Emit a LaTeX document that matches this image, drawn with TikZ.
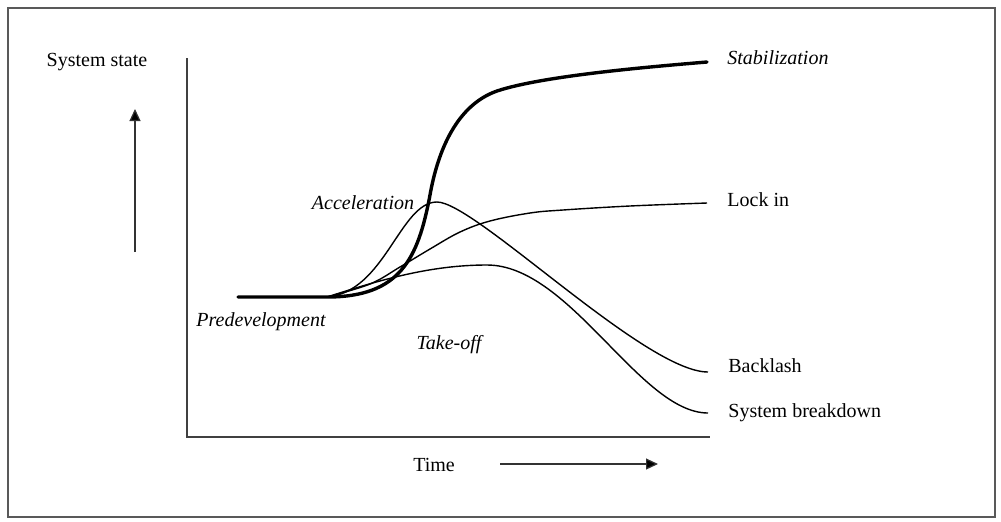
\documentclass[tikz,border=0pt]{standalone}
\usepackage{fontspec}
\setmainfont{Liberation Serif}
\usetikzlibrary{positioning,arrows.meta}

\begin{document}
\begin{tikzpicture}[
				x=0.5pt, y=-0.5pt,
				every node/.style={inner sep=1pt, font=\fontsize{10}{12}\selectfont},
				phase/.style={font=\fontsize{10}{12}\selectfont\itshape},
				path line/.style={line width=0.7pt, line join=round},
				main line/.style={line width=1.7pt, line join=round, line cap=round},
				axis line/.style={line width=0.7pt, draw=black!75},
				dir arrow/.style={line width=0.6pt, draw=black!80, -{Triangle[length=6pt, width=5.5pt, fill=black]}}
			]
			\useasboundingbox (0,0) rectangle (1001,521);
			\draw[line width=1pt, draw=black!65] (8,8) rectangle (995,517);

			% axes
			\coordinate (origin) at (187,437);
			\coordinate (ytop) at (187,58);
			\coordinate (xend) at (710,437);
			\draw[axis line] (ytop) -- (origin) -- (xend);

			\node (state) at (97,62) { System state };
			\coordinate (up0) at (135,252);
			\coordinate (up1) at (135,109);
			\draw[dir arrow] (up0) -- (up1);

			\node (time) at (434,465) { Time };
			\coordinate (t0) at (500,464);
			\coordinate (t1) at (658,464);
			\draw[dir arrow] (t0) -- (t1);

			% curves
			\coordinate (start) at (238,297);
			\coordinate (branch) at (327,297);
			\coordinate (stabEnd) at (707,62);
			\coordinate (lockEnd) at (707,203);
			\coordinate (backEnd) at (708,372);
			\coordinate (breakEnd) at (708,413);
			\coordinate (backTop) at (437,202);
			\coordinate (breakTop) at (487,265);
			\coordinate (stabMid) at (430,195);
			\coordinate (stabBend) at (497,91);

			\draw[path line] (branch) .. controls (385,292) and (400,202) .. (backTop)
				.. controls (475,202) and (645,372) .. (backEnd);
			\draw[path line] plot[smooth, tension=0.6] coordinates {
					(branch) (370,284) (400,267) (430,249) (460,232) (490,221) (530,213)
					(563,210) (630,206) (lockEnd) };
			\draw[path line] (branch) .. controls (380,280) and (430,265) .. (breakTop)
				.. controls (570,265) and (640,413) .. (breakEnd);
			\draw[main line] (start) -- (branch)
				.. controls (400,297) and (418,259) .. (stabMid)
				.. controls (438,150) and (457,105) .. (stabBend)
				.. controls (542,76) and (647,67) .. (stabEnd);

			% labels
			\node[phase, right=9pt of stabEnd, yshift=2pt] (stab) { Stabilization };
			\node[right=9pt of lockEnd, yshift=1.5pt] (lock) { Lock in };
			\node[right=9pt of backEnd, yshift=3pt] (back) { Backlash };
			\node[right=9pt of breakEnd] (break) { System breakdown };
			\node[phase] (accel) at (363,203) { Acceleration };
			\node[phase] (predev) at (261,322) { Predevelopment };
			\node[phase] (takeoff) at (449,345) { Take-off };
		\end{tikzpicture}
\end{document}
